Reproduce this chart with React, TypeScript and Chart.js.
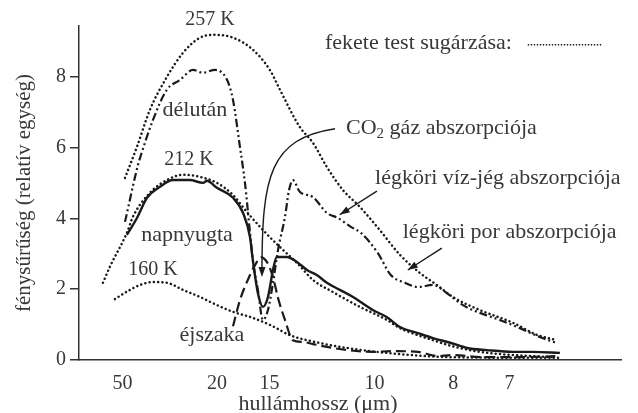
import React, { useEffect, useRef } from "react";
import { Chart, registerables } from "chart.js";
Chart.register(...registerables);

// x values are wavenumbers (cm^-1 = 10000 / wavelength in µm); the axis is labelled in µm
const tickWavelengths = [50, 20, 15, 10, 8, 7];
const yTickValues = [0, 2, 4, 6, 8];

// black-body curves (dotted)
const bb257Wn = [208, 246, 287, 341, 392, 446, 487, 551, 614, 668, 700, 763, 805, 849, 900, 954, 1017, 1081, 1144, 1198, 1249, 1335, 1440, 1516, 1579];
const bb257Val = [5.14, 6.02, 7.06, 7.99, 8.67, 9.1, 9.18, 9.1, 8.76, 8.19, 7.63, 6.58, 6.13, 5.45, 4.8, 4.32, 3.67, 2.97, 2.46, 2.12, 1.78, 1.41, 1.05, 0.71, 0.56];

const bb212Wn = [138, 160, 214, 233, 287, 341, 392, 446, 500, 551, 595, 646, 700, 754, 805, 868, 954, 1040, 1081, 1138, 1186, 1243, 1335, 1440, 1567];
const bb212Val = [2.18, 2.63, 3.59, 4.04, 4.72, 5.08, 5.23, 5.17, 5.0, 4.66, 4.18, 3.67, 3.19, 2.74, 2.26, 1.92, 1.5, 1.13, 0.9, 0.7, 0.56, 0.4, 0.23, 0.14, 0.08];

const bb160Wn = [176, 214, 256, 297, 341, 392, 446, 500, 551, 614, 678, 732, 827, 913, 1040, 1243, 1583];
const bb160Val = [1.72, 1.93, 2.12, 2.2, 2.18, 1.98, 1.78, 1.55, 1.36, 1.19, 0.95, 0.7, 0.48, 0.34, 0.2, 0.08, 0.06];

// measured spectra
const delutanWn = [208, 249, 256, 297, 341, 383, 424, 456, 494, 532, 551, 573, 589, 605, 614, 630, 646, 662, 678, 694, 716, 729, 741, 763, 805, 849, 884, 925, 957, 1011, 1052, 1097, 1138, 1186, 1230, 1281, 1335, 1398, 1462, 1525, 1579];
const delutanVal = [3.9, 5.5, 5.71, 6.78, 7.63, 7.91, 8.19, 8.11, 8.19, 7.91, 7.34, 6.02, 5.0, 3.59, 2.82, 1.98, 1.13, 1.41, 2.18, 3.11, 4.04, 4.8, 5.08, 4.75, 4.6, 4.15, 4.01, 3.76, 3.59, 3.02, 2.4, 2.18, 2.06, 2.12, 1.89, 1.55, 1.33, 1.13, 0.9, 0.65, 0.48];

const napnyugtaWn = [214, 246, 278, 319, 360, 414, 456, 468, 500, 551, 583, 605, 614, 630, 646, 662, 678, 690, 722, 754, 786, 817, 849, 890, 932, 995, 1040, 1081, 1138, 1186, 1243, 1294, 1357, 1440, 1503, 1589];
const napnyugtaVal = [3.53, 4.01, 4.58, 4.89, 5.08, 5.08, 5.0, 5.06, 4.86, 4.58, 4.15, 3.47, 2.82, 1.89, 1.5, 1.78, 2.54, 2.91, 2.91, 2.77, 2.54, 2.4, 2.18, 1.98, 1.78, 1.41, 1.21, 0.93, 0.76, 0.62, 0.48, 0.34, 0.28, 0.23, 0.23, 0.2];

const ejszakaWn = [551, 573, 598, 621, 640, 660, 678, 694, 716, 741, 773, 805, 849, 913, 995, 1059, 1138, 1202, 1243, 1351, 1456, 1583];
const ejszakaVal = [0.95, 1.69, 2.26, 2.68, 2.9, 2.75, 2.34, 1.75, 1.13, 0.56, 0.51, 0.45, 0.37, 0.28, 0.23, 0.25, 0.23, 0.11, 0.14, 0.08, 0.08, 0.11];

// text labels placed in data coordinates
const curveLabels = [
  { text: "257 K", wn: 478, val: 9.6, align: "center", size: 20 },
  { text: "délután", wn: 430, val: 7.06, align: "center", size: 22 },
  { text: "212 K", wn: 411, val: 5.65, align: "center", size: 20 },
  { text: "napnyugta", wn: 405, val: 3.53, align: "center", size: 22 },
  { text: "160 K", wn: 297, val: 2.54, align: "center", size: 20 },
  { text: "éjszaka", wn: 484, val: 0.71, align: "center", size: 22 },
  { text: "légköri víz-jég abszorpciója", wn: 1002, val: 5.14, align: "left", size: 22 },
  { text: "légköri por abszorpciója", wn: 1090, val: 3.62, align: "left", size: 22 },
];
const co2Label = { wn: 910, val: 6.55 };
const legendLabel = { text: "fekete test sugárzása:", wn: 843, val: 8.95, lineFrom: 1487, lineTo: 1721, lineVal: 8.9 };
const xTitle = { text: "hullámhossz (μm)", wn: 821 };

const FONT = "'Liberation Serif', 'DejaVu Serif', serif";
const TEXT = "#383838";
const LINE = "#1a1a1a";

const zip = (xs: number[], ys: number[]) => xs.map((x, i) => ({ x, y: ys[i] }));

const annotations = {
  id: "annotations",
  afterDraw(chart: any) {
    const { ctx, scales } = chart;
    const x = scales.x;
    const y = scales.y;
    const px = (v: number) => x.getPixelForValue(v);
    const py = (v: number) => y.getPixelForValue(v);
    ctx.save();
    ctx.fillStyle = TEXT;
    ctx.textBaseline = "middle";
    for (const l of curveLabels) {
      ctx.font = `${l.size}px ${FONT}`;
      ctx.textAlign = l.align;
      ctx.fillText(l.text, px(l.wn), py(l.val));
    }
    // CO2 label with subscript
    ctx.textAlign = "left";
    ctx.font = `22px ${FONT}`;
    let cx = px(co2Label.wn);
    const cy = py(co2Label.val);
    ctx.fillText("CO", cx, cy);
    cx += ctx.measureText("CO").width;
    ctx.font = `15px ${FONT}`;
    ctx.fillText("2", cx, cy + 6);
    cx += ctx.measureText("2").width;
    ctx.font = `22px ${FONT}`;
    ctx.fillText(" gáz abszorpciója", cx, cy);

    // legend
    ctx.fillText(legendLabel.text, px(legendLabel.wn), py(legendLabel.val));
    ctx.strokeStyle = LINE;
    ctx.lineWidth = 1.6;
    ctx.setLineDash([1.4, 1.6]);
    ctx.beginPath();
    ctx.moveTo(px(legendLabel.lineFrom), py(legendLabel.lineVal));
    ctx.lineTo(px(legendLabel.lineTo), py(legendLabel.lineVal));
    ctx.stroke();
    ctx.setLineDash([]);

    // x title
    ctx.textAlign = "center";
    ctx.font = `22px ${FONT}`;
    ctx.fillText(xTitle.text, px(xTitle.wn), chart.height - 9);

    // arrows
    const head = (tx: number, ty: number, fx: number, fy: number) => {
      const a = Math.atan2(ty - fy, tx - fx);
      const L = 10, W = 3.5;
      ctx.beginPath();
      ctx.moveTo(tx, ty);
      ctx.lineTo(tx - L * Math.cos(a) + W * Math.sin(a), ty - L * Math.sin(a) - W * Math.cos(a));
      ctx.lineTo(tx - L * Math.cos(a) - W * Math.sin(a), ty - L * Math.sin(a) + W * Math.cos(a));
      ctx.closePath();
      ctx.fillStyle = LINE;
      ctx.fill();
    };
    ctx.lineWidth = 1.4;
    // CO2 curved arrow
    const s = [px(875), py(6.53)];
    const c1 = [px(668), py(6.25)];
    const c2 = [px(643), py(5.2)];
    const e = [px(643), py(2.34)];
    ctx.beginPath();
    ctx.moveTo(s[0], s[1]);
    ctx.bezierCurveTo(c1[0], c1[1], c2[0], c2[1], e[0], e[1] - 6);
    ctx.stroke();
    head(e[0], e[1], e[0], e[1] - 20);
    const straight = (w1: number, v1: number, w2: number, v2: number) => {
      const a = [px(w1), py(v1)];
      const b = [px(w2), py(v2)];
      ctx.beginPath();
      ctx.moveTo(a[0], a[1]);
      ctx.lineTo(b[0], b[1]);
      ctx.stroke();
      head(b[0], b[1], a[0], a[1]);
    };
    straight(1008, 4.77, 890, 4.1);
    straight(1214, 3.16, 1106, 2.54);
    ctx.restore();
  },
};

export default function App() {
  const ref = useRef<HTMLCanvasElement | null>(null);
  useEffect(() => {
    if (!ref.current) return;
    const dotted = { borderDash: [0.1, 4.2], borderWidth: 2.5, borderCapStyle: "round" as const };
    const common = {
      pointRadius: 0,
      borderColor: LINE,
      backgroundColor: LINE,
      cubicInterpolationMode: "monotone" as const,
      fill: false,
    };
    const chart = new Chart(ref.current, {
      type: "line",
      data: {
        datasets: [
          { label: "257 K", data: zip(bb257Wn, bb257Val), ...common, ...dotted },
          { label: "212 K", data: zip(bb212Wn, bb212Val), ...common, ...dotted },
          { label: "160 K", data: zip(bb160Wn, bb160Val), ...common, ...dotted },
          { label: "délután", data: zip(delutanWn, delutanVal), ...common, borderWidth: 2.2, borderDash: [8, 3, 2, 3, 2, 3] },
          { label: "napnyugta", data: zip(napnyugtaWn, napnyugtaVal), ...common, borderWidth: 2.4 },
          { label: "éjszaka", data: zip(ejszakaWn, ejszakaVal), ...common, borderWidth: 2.2, borderDash: [10, 5] },
        ],
      },
      options: {
        animation: false,
        responsive: false,
        layout: { padding: { left: 0, right: 17, top: 26, bottom: 0 } },
        plugins: { legend: { display: false }, tooltip: { enabled: false }, title: { display: false } },
        scales: {
          x: {
            type: "linear",
            min: 62,
            max: 1783,
            afterBuildTicks: (s: any) => {
              s.ticks = tickWavelengths.map((w) => ({ value: 10000 / w }));
            },
            afterFit: (s: any) => {
              s.height = 53;
            },
            grid: { display: false },
            border: { display: true, color: "#333", width: 1.5 },
            ticks: {
              autoSkip: false,
              maxRotation: 0,
              padding: 4,
              color: TEXT,
              font: { family: FONT, size: 20 },
              callback: (_v: any, i: number) => String(tickWavelengths[i]),
            },
          },
          y: {
            type: "linear",
            min: 0,
            max: 9.43,
            afterBuildTicks: (s: any) => {
              s.ticks = yTickValues.map((v) => ({ value: v }));
            },
            afterFit: (s: any) => {
              s.width = 79;
            },
            grid: { drawOnChartArea: false, drawTicks: true, tickLength: 9, color: "#333", lineWidth: 1.5 },
            border: { display: true, color: "#333", width: 1.5 },
            ticks: { padding: 4, color: TEXT, font: { family: FONT, size: 20 } },
            title: {
              display: true,
              text: "fénysűrűség (relatív egység)",
              color: TEXT,
              font: { family: FONT, size: 21 },
              padding: { top: 12, bottom: 0 },
            },
          },
        },
      },
      plugins: [annotations],
    });
    return () => chart.destroy();
  }, []);
  return (
    <div style={{ position: "fixed", left: 0, top: 0, width: 638, height: 413, background: "#fff" }}>
      <canvas ref={ref} width={638} height={413} style={{ display: "block" }} />
    </div>
  );
}
